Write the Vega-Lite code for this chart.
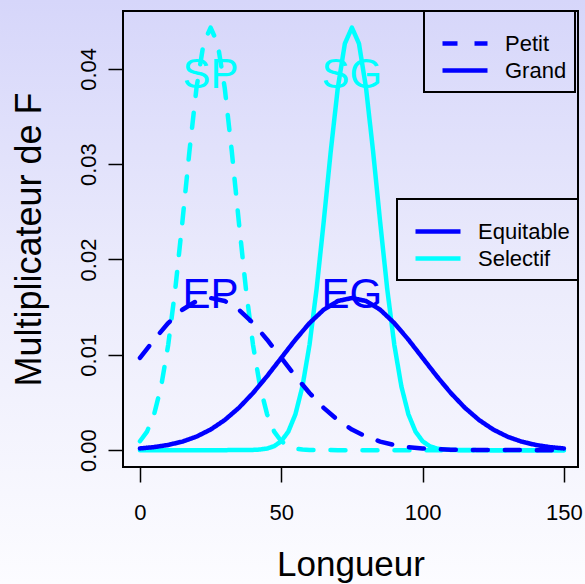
{
  "$schema": "https://vega.github.io/schema/vega-lite/v6.json",
  "width": 455,
  "height": 456,
  "padding": 0,
  "config": {
    "font": "Liberation Sans",
    "view": {"stroke": null},
    "axis": {
      "domain": false, "grid": false, "tickColor": "black", "tickWidth": 1.5, "tickSize": 15,
      "labelColor": "black", "labelFont": "Liberation Sans", "labelFontSize": 22,
      "titleFont": "Liberation Sans", "titleFontWeight": "normal", "titleColor": "black",
      "labelOverlap": false, "labelFlush": false
    },
    "legend": {
      "labelFont": "Liberation Sans", "labelFontSize": 22, "labelColor": "black",
      "symbolType": "stroke", "symbolSize": 2025, "symbolStrokeWidth": 4.5,
      "strokeColor": "black", "strokeWidth": 2, "labelOffset": 15, "symbolOffset": 8,
      "rowPadding": 0, "clipHeight": 27, "padding": 8,
      "titleFontSize": 1, "titlePadding": 10
    }
  },
  "layer": [
    {
      "data": {"values": [{}]},
      "mark": {"type": "rect", "fill": {"gradient": "linear", "x1": 0, "y1": 0, "x2": 0, "y2": 1,
        "stops": [{"offset": 0, "color": "#d6d6fa"}, {"offset": 0.5, "color": "#ececfc"}, {"offset": 1, "color": "#fcfcff"}]}},
      "encoding": {
        "x": {"datum": -49.52, "type": "quantitative", "scale": {"domain": [-6, 155], "nice": false, "zero": false}},
        "x2": {"datum": 157.48},
        "y": {"datum": -0.014045, "type": "quantitative", "scale": {"domain": [-0.00177, 0.04607], "nice": false, "zero": false}},
        "y2": {"datum": 0.047224}
      }
    },
    {
      "data": {"values": [
        {"x":0,"y":0.000936,"type":"Selectif","size":"Petit"},{"x":2.5,"y":0.001948,"type":"Selectif","size":"Petit"},{"x":5,"y":0.003752,"type":"Selectif","size":"Petit"},{"x":7.5,"y":0.006693,"type":"Selectif","size":"Petit"},{"x":10,"y":0.011053,"type":"Selectif","size":"Petit"},{"x":12.5,"y":0.016896,"type":"Selectif","size":"Petit"},{"x":15,"y":0.02391,"type":"Selectif","size":"Petit"},{"x":17.5,"y":0.031324,"type":"Selectif","size":"Petit"},{"x":20,"y":0.037988,"type":"Selectif","size":"Petit"},{"x":22.5,"y":0.04265,"type":"Selectif","size":"Petit"},{"x":25,"y":0.044327,"type":"Selectif","size":"Petit"},{"x":27.5,"y":0.04265,"type":"Selectif","size":"Petit"},{"x":30,"y":0.037988,"type":"Selectif","size":"Petit"},{"x":32.5,"y":0.031324,"type":"Selectif","size":"Petit"},{"x":35,"y":0.02391,"type":"Selectif","size":"Petit"},{"x":37.5,"y":0.016896,"type":"Selectif","size":"Petit"},{"x":40,"y":0.011053,"type":"Selectif","size":"Petit"},{"x":42.5,"y":0.006693,"type":"Selectif","size":"Petit"},{"x":45,"y":0.003752,"type":"Selectif","size":"Petit"},{"x":47.5,"y":0.001948,"type":"Selectif","size":"Petit"},{"x":50,"y":0.000936,"type":"Selectif","size":"Petit"},{"x":52.5,"y":0.000416,"type":"Selectif","size":"Petit"},{"x":55,"y":0.000171,"type":"Selectif","size":"Petit"},{"x":57.5,"y":0.000065,"type":"Selectif","size":"Petit"},{"x":60,"y":0.000023,"type":"Selectif","size":"Petit"},{"x":65,"y":0.000002,"type":"Selectif","size":"Petit"},{"x":70,"y":0,"type":"Selectif","size":"Petit"},{"x":75,"y":0,"type":"Selectif","size":"Petit"},{"x":80,"y":0,"type":"Selectif","size":"Petit"},{"x":85,"y":0,"type":"Selectif","size":"Petit"},{"x":90,"y":0,"type":"Selectif","size":"Petit"},{"x":95,"y":0,"type":"Selectif","size":"Petit"},{"x":100,"y":0,"type":"Selectif","size":"Petit"},{"x":105,"y":0,"type":"Selectif","size":"Petit"},{"x":110,"y":0,"type":"Selectif","size":"Petit"},{"x":115,"y":0,"type":"Selectif","size":"Petit"},{"x":120,"y":0,"type":"Selectif","size":"Petit"},{"x":125,"y":0,"type":"Selectif","size":"Petit"},{"x":130,"y":0,"type":"Selectif","size":"Petit"},{"x":135,"y":0,"type":"Selectif","size":"Petit"},{"x":140,"y":0,"type":"Selectif","size":"Petit"},{"x":145,"y":0,"type":"Selectif","size":"Petit"},{"x":150,"y":0,"type":"Selectif","size":"Petit"},
        {"x":0,"y":0,"type":"Selectif","size":"Grand"},{"x":5,"y":0,"type":"Selectif","size":"Grand"},{"x":10,"y":0,"type":"Selectif","size":"Grand"},{"x":15,"y":0,"type":"Selectif","size":"Grand"},{"x":20,"y":0,"type":"Selectif","size":"Grand"},{"x":25,"y":0,"type":"Selectif","size":"Grand"},{"x":30,"y":0,"type":"Selectif","size":"Grand"},{"x":35,"y":0.000002,"type":"Selectif","size":"Grand"},{"x":40,"y":0.000023,"type":"Selectif","size":"Grand"},{"x":42.5,"y":0.000065,"type":"Selectif","size":"Grand"},{"x":45,"y":0.000171,"type":"Selectif","size":"Grand"},{"x":47.5,"y":0.000416,"type":"Selectif","size":"Grand"},{"x":50,"y":0.000936,"type":"Selectif","size":"Grand"},{"x":52.5,"y":0.001948,"type":"Selectif","size":"Grand"},{"x":55,"y":0.003752,"type":"Selectif","size":"Grand"},{"x":57.5,"y":0.006693,"type":"Selectif","size":"Grand"},{"x":60,"y":0.011053,"type":"Selectif","size":"Grand"},{"x":62.5,"y":0.016896,"type":"Selectif","size":"Grand"},{"x":65,"y":0.02391,"type":"Selectif","size":"Grand"},{"x":67.5,"y":0.031324,"type":"Selectif","size":"Grand"},{"x":70,"y":0.037988,"type":"Selectif","size":"Grand"},{"x":72.5,"y":0.04265,"type":"Selectif","size":"Grand"},{"x":75,"y":0.044327,"type":"Selectif","size":"Grand"},{"x":77.5,"y":0.04265,"type":"Selectif","size":"Grand"},{"x":80,"y":0.037988,"type":"Selectif","size":"Grand"},{"x":82.5,"y":0.031324,"type":"Selectif","size":"Grand"},{"x":85,"y":0.02391,"type":"Selectif","size":"Grand"},{"x":87.5,"y":0.016896,"type":"Selectif","size":"Grand"},{"x":90,"y":0.011053,"type":"Selectif","size":"Grand"},{"x":92.5,"y":0.006693,"type":"Selectif","size":"Grand"},{"x":95,"y":0.003752,"type":"Selectif","size":"Grand"},{"x":97.5,"y":0.001948,"type":"Selectif","size":"Grand"},{"x":100,"y":0.000936,"type":"Selectif","size":"Grand"},{"x":102.5,"y":0.000416,"type":"Selectif","size":"Grand"},{"x":105,"y":0.000171,"type":"Selectif","size":"Grand"},{"x":107.5,"y":0.000065,"type":"Selectif","size":"Grand"},{"x":110,"y":0.000023,"type":"Selectif","size":"Grand"},{"x":115,"y":0.000002,"type":"Selectif","size":"Grand"},{"x":120,"y":0,"type":"Selectif","size":"Grand"},{"x":125,"y":0,"type":"Selectif","size":"Grand"},{"x":130,"y":0,"type":"Selectif","size":"Grand"},{"x":135,"y":0,"type":"Selectif","size":"Grand"},{"x":140,"y":0,"type":"Selectif","size":"Grand"},{"x":145,"y":0,"type":"Selectif","size":"Grand"},{"x":150,"y":0,"type":"Selectif","size":"Grand"},
        {"x":0,"y":0.009679,"type":"Equitable","size":"Petit"},{"x":5,"y":0.011588,"type":"Equitable","size":"Petit"},{"x":10,"y":0.013329,"type":"Equitable","size":"Petit"},{"x":15,"y":0.014731,"type":"Equitable","size":"Petit"},{"x":20,"y":0.015642,"type":"Equitable","size":"Petit"},{"x":25,"y":0.015958,"type":"Equitable","size":"Petit"},{"x":30,"y":0.015642,"type":"Equitable","size":"Petit"},{"x":35,"y":0.014731,"type":"Equitable","size":"Petit"},{"x":40,"y":0.013329,"type":"Equitable","size":"Petit"},{"x":45,"y":0.011588,"type":"Equitable","size":"Petit"},{"x":50,"y":0.009679,"type":"Equitable","size":"Petit"},{"x":55,"y":0.007768,"type":"Equitable","size":"Petit"},{"x":60,"y":0.005989,"type":"Equitable","size":"Petit"},{"x":65,"y":0.004437,"type":"Equitable","size":"Petit"},{"x":70,"y":0.003158,"type":"Equitable","size":"Petit"},{"x":75,"y":0.00216,"type":"Equitable","size":"Petit"},{"x":80,"y":0.001419,"type":"Equitable","size":"Petit"},{"x":85,"y":0.000896,"type":"Equitable","size":"Petit"},{"x":90,"y":0.000543,"type":"Equitable","size":"Petit"},{"x":95,"y":0.000317,"type":"Equitable","size":"Petit"},{"x":100,"y":0.000177,"type":"Equitable","size":"Petit"},{"x":105,"y":0.000095,"type":"Equitable","size":"Petit"},{"x":110,"y":0.000049,"type":"Equitable","size":"Petit"},{"x":115,"y":0.000025,"type":"Equitable","size":"Petit"},{"x":120,"y":0.000012,"type":"Equitable","size":"Petit"},{"x":125,"y":0.000005,"type":"Equitable","size":"Petit"},{"x":130,"y":0.000002,"type":"Equitable","size":"Petit"},{"x":135,"y":0.000001,"type":"Equitable","size":"Petit"},{"x":140,"y":0,"type":"Equitable","size":"Petit"},{"x":145,"y":0,"type":"Equitable","size":"Petit"},{"x":150,"y":0,"type":"Equitable","size":"Petit"},
        {"x":0,"y":0.000177,"type":"Equitable","size":"Grand"},{"x":5,"y":0.000317,"type":"Equitable","size":"Grand"},{"x":10,"y":0.000543,"type":"Equitable","size":"Grand"},{"x":15,"y":0.000896,"type":"Equitable","size":"Grand"},{"x":20,"y":0.001419,"type":"Equitable","size":"Grand"},{"x":25,"y":0.00216,"type":"Equitable","size":"Grand"},{"x":30,"y":0.003158,"type":"Equitable","size":"Grand"},{"x":35,"y":0.004437,"type":"Equitable","size":"Grand"},{"x":40,"y":0.005989,"type":"Equitable","size":"Grand"},{"x":45,"y":0.007768,"type":"Equitable","size":"Grand"},{"x":50,"y":0.009679,"type":"Equitable","size":"Grand"},{"x":55,"y":0.011588,"type":"Equitable","size":"Grand"},{"x":60,"y":0.013329,"type":"Equitable","size":"Grand"},{"x":65,"y":0.014731,"type":"Equitable","size":"Grand"},{"x":70,"y":0.015642,"type":"Equitable","size":"Grand"},{"x":75,"y":0.015958,"type":"Equitable","size":"Grand"},{"x":80,"y":0.015642,"type":"Equitable","size":"Grand"},{"x":85,"y":0.014731,"type":"Equitable","size":"Grand"},{"x":90,"y":0.013329,"type":"Equitable","size":"Grand"},{"x":95,"y":0.011588,"type":"Equitable","size":"Grand"},{"x":100,"y":0.009679,"type":"Equitable","size":"Grand"},{"x":105,"y":0.007768,"type":"Equitable","size":"Grand"},{"x":110,"y":0.005989,"type":"Equitable","size":"Grand"},{"x":115,"y":0.004437,"type":"Equitable","size":"Grand"},{"x":120,"y":0.003158,"type":"Equitable","size":"Grand"},{"x":125,"y":0.00216,"type":"Equitable","size":"Grand"},{"x":130,"y":0.001419,"type":"Equitable","size":"Grand"},{"x":135,"y":0.000896,"type":"Equitable","size":"Grand"},{"x":140,"y":0.000543,"type":"Equitable","size":"Grand"},{"x":145,"y":0.000317,"type":"Equitable","size":"Grand"},{"x":150,"y":0.000177,"type":"Equitable","size":"Grand"}
      ]},
      "mark": {"type": "line", "strokeWidth": 4.5, "strokeCap": "round", "strokeJoin": "round"},
      "encoding": {
        "x": {"field": "x", "type": "quantitative", "scale": {"domain": [-6, 155], "nice": false, "zero": false},
          "axis": {"zindex": 2, "values": [0, 50, 100, 150], "labelPadding": 37, "labelBaseline": "alphabetic", "labelAngle": 0,
            "title": "Longueur", "titleFontSize": 35, "titleBaseline": "alphabetic", "titleX": 227.5, "titleY": 108, "titleAlign": "center"}},
        "y": {"field": "y", "type": "quantitative", "scale": {"domain": [-0.00177, 0.04607], "nice": false, "zero": false},
          "axis": {"zindex": 2, "values": [0, 0.01, 0.02, 0.03, 0.04], "format": ".2f", "labelAngle": 270, "labelAlign": "center", "labelBaseline": "alphabetic", "labelPadding": 13,
            "title": "Multiplicateur de F", "titleFontSize": 36, "titleAngle": 270, "titleBaseline": "alphabetic", "titleX": -83, "titleY": 228, "titleAlign": "center"}},
        "color": {"field": "type", "type": "nominal", "scale": {"domain": ["Equitable", "Selectif"], "range": ["#0000ff", "#00ffff"]},
          "legend": {"title": " ", "orient": "none", "legendX": 274, "legendY": 188, "zindex": 3}},
        "strokeDash": {"field": "size", "type": "nominal", "scale": {"domain": ["Petit", "Grand"], "range": [[15, 17], [1, 0]]},
          "legend": {"title": " ", "orient": "none", "legendX": 301, "legendY": 0, "symbolStrokeColor": "#0000ff", "zindex": 3}}
      }
    },
    {
      "data": {"values": [
        {"label": "SP", "x": 25, "y": 0.038, "type": "Selectif"},
        {"label": "SG", "x": 75, "y": 0.038, "type": "Selectif"},
        {"label": "EP", "x": 25, "y": 0.0149, "type": "Equitable"},
        {"label": "EG", "x": 75, "y": 0.0149, "type": "Equitable"}
      ]},
      "mark": {"type": "text", "fontSize": 42, "font": "Liberation Sans", "align": "center", "baseline": "alphabetic"},
      "encoding": {
        "x": {"field": "x", "type": "quantitative", "scale": {"domain": [-6, 155], "nice": false, "zero": false}},
        "y": {"field": "y", "type": "quantitative", "scale": {"domain": [-0.00177, 0.04607], "nice": false, "zero": false}},
        "text": {"field": "label"},
        "color": {"field": "type", "type": "nominal", "scale": {"domain": ["Equitable", "Selectif"], "range": ["#0000ff", "#00ffff"]}}
      }
    },
    {
      "data": {"values": [{}]},
      "mark": {"type": "rect", "filled": false, "fill": null, "stroke": "black", "strokeWidth": 2},
      "encoding": {
        "x": {"datum": -6, "type": "quantitative", "scale": {"domain": [-6, 155], "nice": false, "zero": false}},
        "x2": {"datum": 155},
        "y": {"datum": -0.00177, "type": "quantitative", "scale": {"domain": [-0.00177, 0.04607], "nice": false, "zero": false}},
        "y2": {"datum": 0.04607}
      }
    }
  ]
}
